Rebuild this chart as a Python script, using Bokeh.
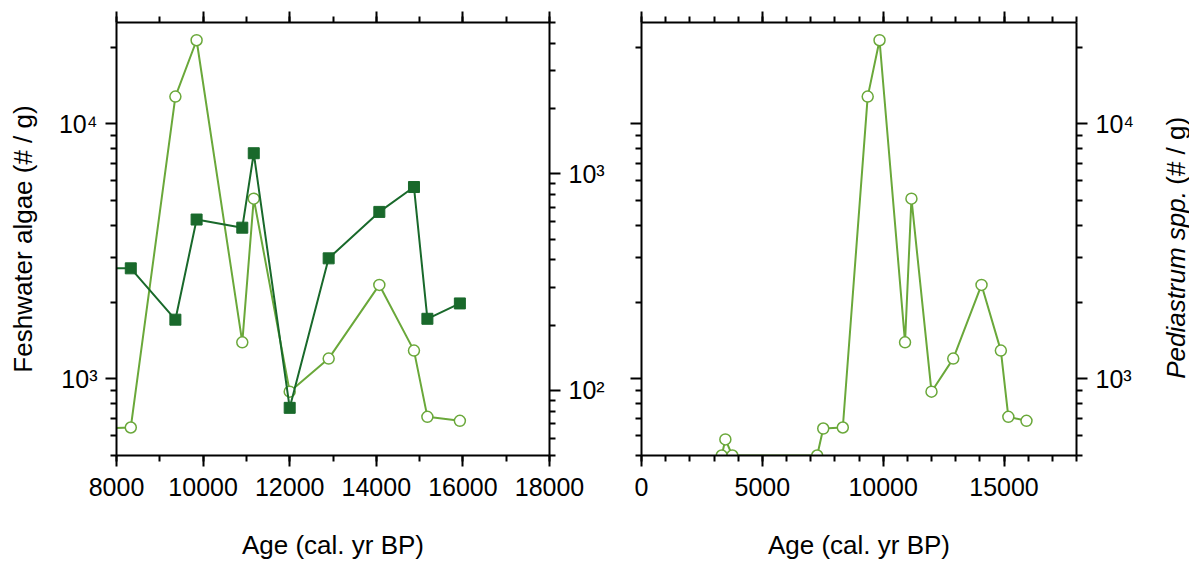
import math
from bokeh.plotting import figure
from bokeh.models import (LogAxis, LinearAxis, Range1d, FixedTicker, LogScale,
                          CustomJSTickFormatter)
from bokeh.core.properties import value
from bokeh.layouts import row
from bokeh.embed import file_html
from bokeh.resources import INLINE

# ---- data ----
ped_age = [3320, 3470, 3760, 7270, 7520, 8330, 9360, 9850, 10905, 11170,
           12000, 12900, 14070, 14870, 15180, 15930]
ped_val = [500, 578, 500, 500, 638, 644, 12800, 21300, 1390, 5090,
           890, 1200, 2335, 1290, 709, 684]

alg_age = [7520, 8330, 9360, 9850, 10905, 11170, 12000, 12900, 14070,
           14870, 15180, 15930]
alg_val = [366, 366, 212, 615, 564, 1245, 83, 407, 667, 869, 214, 252]

left_x_ticks = [8000, 10000, 12000, 14000, 16000, 18000]
right_x_ticks = [0, 5000, 10000, 15000]
left_y_major = [1000, 10000]
sq_y_major = [100, 1000]

LIGHT = "#6aa83a"
DARK = "#19692b"
FONT = "Liberation Sans"
TICK_FS = "25px"
LAB_FS = "26px"
H = 562
TOP = 22
BOTTOM = 105

sup_fmt = CustomJSTickFormatter(code="""
const e = Math.round(Math.log10(tick));
const s = {'0':'\u2070','1':'\u00b9','2':'\u00b2','3':'\u00b3','4':'\u2074','5':'\u2075'};
return '10' + s[String(e)];
""")
blank_fmt = CustomJSTickFormatter(code="return '';")


def log_minor(lo, hi):
    out = []
    d = 1
    while d <= hi:
        for m in range(2, 10):
            v = m * d
            if lo <= v <= hi:
                out.append(v)
        d *= 10
    return out


def style_axis(ax, labels=True):
    ax.axis_line_color = "black"
    ax.axis_line_width = 2
    ax.major_tick_line_color = "black"
    ax.major_tick_line_width = 2
    ax.minor_tick_line_color = "black"
    ax.minor_tick_line_width = 2
    ax.major_tick_in = 0
    ax.major_tick_out = 11
    ax.minor_tick_in = 0
    ax.minor_tick_out = 6
    ax.major_label_text_font = FONT
    ax.axis_label_text_font = FONT
    ax.axis_label_text_font_style = "normal"
    ax.axis_label_text_font_size = LAB_FS
    ax.axis_label_text_color = "black"
    ax.major_label_text_color = "black"
    if labels:
        ax.major_label_text_font_size = TICK_FS
        ax.major_label_standoff = 8
    else:
        ax.formatter = blank_fmt
        ax.major_label_text_font_size = "1px"
        ax.major_label_standoff = 0


def base_fig(width, xr, bl, br):
    p = figure(width=width, height=H, y_axis_type="log",
               x_range=xr, y_range=Range1d(500, 25000),
               output_backend="svg", toolbar_location=None,
               min_border_left=bl, min_border_right=br,
               min_border_top=TOP, min_border_bottom=BOTTOM)
    p.outline_line_color = None
    p.xgrid.visible = False
    p.ygrid.visible = False
    p.background_fill_color = "white"
    p.border_fill_color = "white"
    return p


# ---------------- left panel ----------------
p1 = base_fig(613, Range1d(8000, 18000), 116, 64)
p1.extra_y_ranges = {"sq": Range1d(50, 5000)}
p1.extra_y_scales = {"sq": LogScale()}

xb = p1.xaxis[0]
xb.ticker = FixedTicker(ticks=left_x_ticks, minor_ticks=list(range(8000, 18001, 1000)))
style_axis(xb)
xb.major_label_standoff = 11
xb.axis_label = "Age (cal. yr BP)"
xb.axis_label_standoff = 31

yl = p1.yaxis[0]
yl.ticker = FixedTicker(ticks=left_y_major, minor_ticks=log_minor(500, 25000))
style_axis(yl)
yl.formatter = sup_fmt
yl.axis_label = "Feshwater algae (# / g)"
yl.axis_label_standoff = 18

xtop = LinearAxis(ticker=FixedTicker(ticks=left_x_ticks,
                                     minor_ticks=list(range(8000, 18001, 1000))))
style_axis(xtop, labels=False)
p1.add_layout(xtop, "above")

yr = LogAxis(y_range_name="sq",
             ticker=FixedTicker(ticks=sq_y_major, minor_ticks=log_minor(50, 5000)))
style_axis(yr)
yr.formatter = sup_fmt
p1.add_layout(yr, "right")

p1.line(ped_age, ped_val, color=LIGHT, line_width=2)
p1.scatter(ped_age, ped_val, marker="circle", size=11, fill_color="white",
           line_color=LIGHT, line_width=1.5)
p1.line(alg_age, alg_val, color=DARK, line_width=2, y_range_name="sq")
p1.scatter(alg_age, alg_val, marker="square", size=11, fill_color=DARK,
           line_color=DARK, y_range_name="sq")

# ---------------- right panel ----------------
p2 = base_fig(536, Range1d(0, 18000), 28, 73)
xb2 = p2.xaxis[0]
xb2.ticker = FixedTicker(ticks=right_x_ticks, minor_ticks=list(range(0, 18001, 1000)))
style_axis(xb2)
xb2.major_label_standoff = 11
xb2.axis_label = "Age (cal. yr BP)"
xb2.axis_label_standoff = 31

yl2 = p2.yaxis[0]
yl2.ticker = FixedTicker(ticks=left_y_major, minor_ticks=log_minor(500, 25000))
style_axis(yl2, labels=False)

xtop2 = LinearAxis(ticker=FixedTicker(ticks=right_x_ticks,
                                      minor_ticks=list(range(0, 18001, 1000))))
style_axis(xtop2, labels=False)
p2.add_layout(xtop2, "above")

yr2 = LogAxis(ticker=FixedTicker(ticks=left_y_major, minor_ticks=log_minor(500, 25000)))
style_axis(yr2)
yr2.formatter = sup_fmt
p2.add_layout(yr2, "right")

p2.line(ped_age, ped_val, color=LIGHT, line_width=2)
p2.scatter(ped_age, ped_val, marker="circle", size=11, fill_color="white",
           line_color=LIGHT, line_width=1.5)

# ---------------- right-hand axis title (mixed italic / normal) ----------------
W3 = 40
FH = H - TOP - BOTTOM
p3 = figure(width=W3, height=H, x_range=Range1d(0, W3), y_range=Range1d(0, FH),
            output_backend="svg", toolbar_location=None,
            x_axis_location=None, y_axis_location=None,
            min_border_left=0, min_border_right=0, min_border_top=TOP,
            min_border_bottom=BOTTOM)
p3.outline_line_color = None
p3.xgrid.visible = False
p3.ygrid.visible = False
p3.background_fill_color = "white"
p3.border_fill_color = "white"
p3.text(x=[26], y=[77], text=["Pediastrum spp."], angle=math.pi / 2,
        text_font=value(FONT), text_font_style=value("italic"),
        text_font_size=value(LAB_FS), text_align=value("left"),
        text_baseline=value("middle"), text_color="black")
p3.text(x=[26], y=[272], text=["(# / g)"], angle=math.pi / 2,
        text_font=value(FONT), text_font_size=value(LAB_FS),
        text_align=value("left"), text_baseline=value("middle"),
        text_color="black")

layout = row(p1, p2, p3)
open("out.html", "w").write(file_html(layout, INLINE))
